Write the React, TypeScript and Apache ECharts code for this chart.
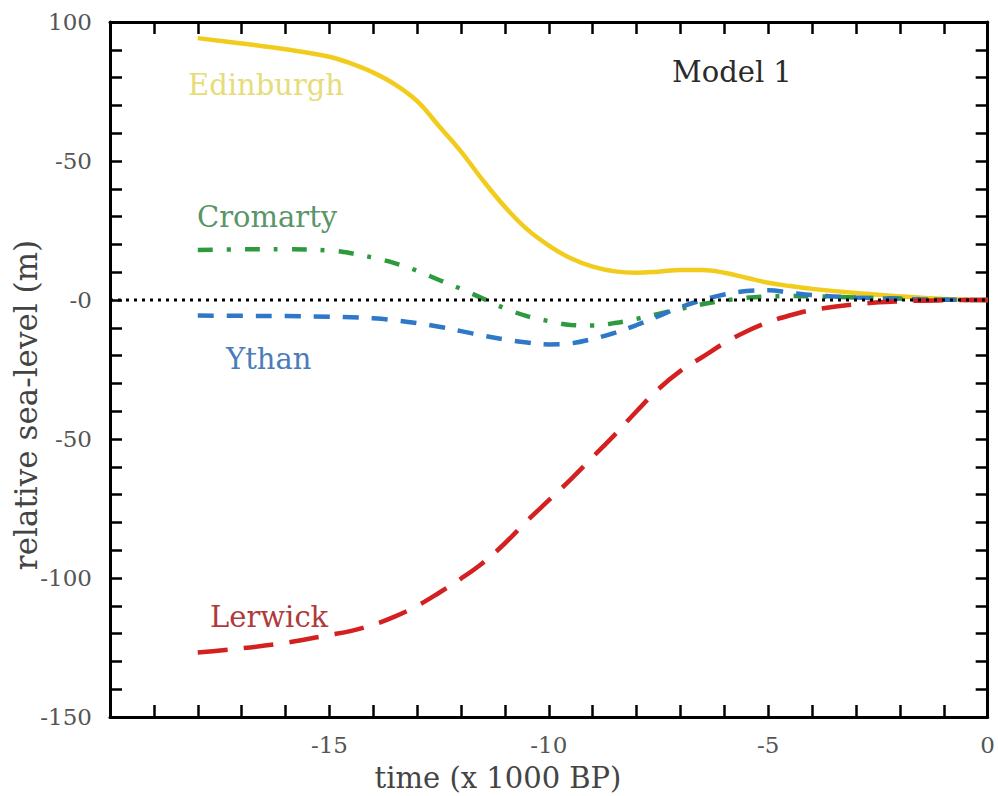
import React, { useEffect, useRef } from "react";
import * as echarts from "echarts";

const times = [-18, -17, -16, -15, -14.5, -14, -13.5, -13, -12.5, -12, -11.5, -11, -10.5, -10, -9.5, -9, -8.5, -8, -7.5, -7, -6.5, -6, -5.5, -5, -4.5, -4, -3, -2, -1, 0];

const edinburgh = [94.2, 92.3, 90.2, 87.5, 85, 81.8, 77.5, 71.5, 62.5, 53.4, 43, 33.5, 25.5, 19.6, 15, 12, 10.3, 9.8, 10.2, 10.8, 10.8, 9.8, 8, 6.2, 5, 4, 2.5, 1.3, 0.4, 0];
const cromarty = [18, 18.2, 18.3, 17.8, 16.8, 15.2, 13.2, 10.5, 7.2, 4, 0.5, -3, -5.8, -7.6, -9, -9.2, -8.3, -6.8, -5, -3.2, -1.5, -0.2, 0.8, 1.3, 1.4, 1.3, 0.9, 0.5, 0.1, 0];
const ythan = [-5.6, -5.7, -5.8, -6, -6.2, -6.6, -7.3, -8.3, -9.6, -11.2, -12.8, -14.2, -15.3, -16, -15.6, -14, -11.8, -9, -5.8, -2.6, 0, 2, 3.2, 3.5, 2.6, 1.8, 0.9, 0.4, 0.1, 0];
const lerwick = [-126.8, -125.3, -123.3, -120.5, -119, -116.8, -113.8, -110, -105.3, -100.2, -94.5, -87.5, -79.5, -72, -64.5, -56.5, -48.5, -40, -32, -25.5, -20.5, -15.5, -11.3, -8, -5.5, -3.6, -1.5, -0.5, -0.1, 0];

const zeroLine = [[-20, 0], [0, 0]];

const xTickValues = [-20, -15, -10, -5, 0];
const xTickLabels = ["", "-15", "-10", "-5", "0"];
const yTickValues = [-150, -100, -50, 0, 50, 100];
const yTickLabels = ["-150", "-100", "-50", "-0", "-50", "100"];

const seriesNames = ["Edinburgh", "Cromarty", "Ythan", "Lerwick"];

const FONT = "DejaVu Serif";

function pair(ys: number[]) {
  return times.map((t, i) => [t, ys[i]]);
}

export default function App() {
  const ref = useRef<HTMLDivElement>(null);
  useEffect(() => {
    document.body.style.margin = "0";
    const chart = echarts.init(ref.current!, null, { renderer: "svg" });
    const tick = { show: true, inside: true, length: 12, lineStyle: { color: "#000", width: 2.5 } };
    const minor = { show: true, splitNumber: 5, length: 12, lineStyle: { color: "#000", width: 2.5 } };
    const axisLine = { show: true, onZero: false, lineStyle: { color: "#000", width: 3 } };
    const xFmt = (v: number) => {
      const i = xTickValues.indexOf(v);
      return i >= 0 ? xTickLabels[i] : "";
    };
    const yFmt = (v: number) => {
      const i = yTickValues.indexOf(v);
      return i >= 0 ? yTickLabels[i] : "";
    };
    const common = { type: "value" as const, splitLine: { show: false } };
    chart.setOption({
      animation: false,
      backgroundColor: "#fff",
      grid: { left: 110, right: 10, top: 22, bottom: 79 },
      xAxis: [
        {
          ...common, min: -20, max: 0, interval: 5, position: "bottom",
          axisLine, axisTick: tick, minorTick: minor,
          axisLabel: { formatter: xFmt, margin: 16, fontFamily: FONT, fontSize: 23, color: "#555" },
        },
        {
          ...common, min: -20, max: 0, interval: 5, position: "top",
          axisLine, axisTick: tick, minorTick: minor,
          axisLabel: { show: false },
        },
      ],
      yAxis: [
        {
          ...common, min: -150, max: 100, interval: 50, position: "left",
          axisLine, axisTick: tick, minorTick: minor,
          axisLabel: { formatter: yFmt, margin: 18, fontFamily: FONT, fontSize: 23, color: "#555" },
        },
        {
          ...common, min: -150, max: 100, interval: 50, position: "right",
          axisLine, axisTick: tick, minorTick: minor,
          axisLabel: { show: false },
        },
      ],
      series: [
        {
          name: seriesNames[0], type: "line", data: pair(edinburgh), smooth: 0.4, symbol: "none",
          lineStyle: { color: "#f2cc1c", width: 4.5, type: "solid" },
        },
        {
          name: seriesNames[1], type: "line", data: pair(cromarty), smooth: 0.4, symbol: "none",
          lineStyle: { color: "#2e9a3e", width: 4.5, type: [15, 14, 4, 14] },
        },
        {
          name: seriesNames[2], type: "line", data: pair(ythan), smooth: 0.4, symbol: "none",
          lineStyle: { color: "#2f78c8", width: 4.5, type: [16, 13] },
        },
        {
          name: seriesNames[3], type: "line", data: pair(lerwick), smooth: 0.4, symbol: "none",
          lineStyle: { color: "#d42020", width: 4.5, type: [30, 16] },
        },
        {
          name: "zero", type: "line", data: zeroLine, symbol: "none", z: 5,
          lineStyle: { color: "#000", width: 3, type: [3, 5] },
        },
      ],
      graphic: [
        { type: "text", left: 188, top: 70, style: { text: "Edinburgh", fill: "#e6dc7a", font: `29px '${FONT}'` } },
        { type: "text", left: 197, top: 202, style: { text: "Cromarty", fill: "#5a9468", font: `29px '${FONT}'` } },
        { type: "text", left: 226, top: 344, style: { text: "Ythan", fill: "#4a7cb8", font: `29px '${FONT}'` } },
        { type: "text", left: 210, top: 602, style: { text: "Lerwick", fill: "#b03a3a", font: `29px '${FONT}'` } },
        { type: "text", left: 672, top: 57, style: { text: "Model 1", fill: "#2a2a2a", font: `29px '${FONT}'` } },
        {
          type: "text", x: 498, y: 778,
          style: { text: "time (x 1000 BP)", fill: "#444", font: `29px '${FONT}'`, align: "center", verticalAlign: "middle" },
        },
        {
          type: "text", x: 26, y: 405, rotation: Math.PI / 2,
          style: { text: "relative sea-level (m)", fill: "#444", font: `31px '${FONT}'`, align: "center", verticalAlign: "middle" },
        },
      ],
    });
    return () => chart.dispose();
  }, []);
  return <div ref={ref} style={{ position: "fixed", left: 0, top: 0, width: 998, height: 796 }} />;
}
